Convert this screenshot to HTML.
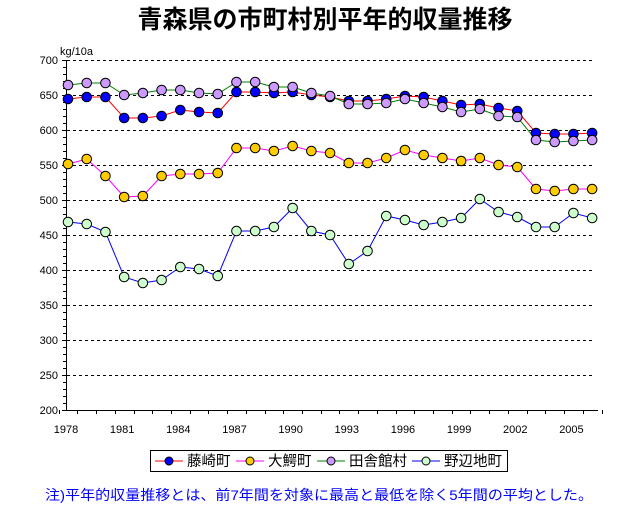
<!DOCTYPE html>
<html><head><meta charset="utf-8"><style>
body{margin:0;background:#fff;width:640px;height:504px;overflow:hidden}
svg text{font-family:"Liberation Sans","Noto Sans CJK JP",sans-serif}
</style></head><body>
<svg width="640" height="504" viewBox="0 0 640 504" xmlns="http://www.w3.org/2000/svg">
<text x="325" y="28" font-size="25" font-weight="bold" text-anchor="middle" fill="#000">青森県の市町村別平年的収量推移</text>
<text x="60" y="55" font-size="11" fill="#000">kg/10a</text>
<g id="grid" stroke="#000" stroke-width="1" stroke-dasharray="3,3"></g>
<g id="axes"></g>
<g id="series"></g>
<rect x="150.5" y="450.5" width="357" height="21" fill="#fff" stroke="#000"/>
<g font-size="14.5" fill="#000">
<line x1="155" y1="461" x2="183" y2="461" stroke="#f00"/><circle cx="169" cy="461" r="4" fill="#0000ff" stroke="#000"/>
<text x="187" y="466">藤崎町</text>
<line x1="236" y1="461" x2="264" y2="461" stroke="#f0f"/><circle cx="250" cy="461" r="4" fill="#ffcc00" stroke="#000"/>
<text x="268" y="466">大鰐町</text>
<line x1="317" y1="461" x2="345" y2="461" stroke="#008000"/><circle cx="331" cy="461" r="4" fill="#cc99ff" stroke="#000"/>
<text x="349" y="466">田舎館村</text>
<line x1="412" y1="461" x2="440" y2="461" stroke="#00f"/><circle cx="426" cy="461" r="4" fill="#ccffcc" stroke="#000"/>
<text x="444" y="466">野辺地町</text>
</g>
<text x="45" y="500" font-size="14" fill="#0000ff" textLength="548" lengthAdjust="spacingAndGlyphs">注)平年的収量推移とは、前7年間を対象に最高と最低を除く5年間の平均とした。</text>
</svg>
<script>
const ns="http://www.w3.org/2000/svg";
function el(p,t,a,txt){const e=document.createElementNS(ns,t);for(const k in a)e.setAttribute(k,a[k]);if(txt!==undefined)e.textContent=txt;p.appendChild(e);return e;}
const g=document.getElementById('grid'),ax=document.getElementById('axes'),s=document.getElementById('series');
for(let i=0;i<10;i++){const y=60+i*35;el(g,'line',{x1:67,y1:y+0.5,x2:594,y2:y+0.5});}
for(let i=0;i<=10;i++){const y=60+i*35;el(ax,'text',{x:58,y:y+4,'font-size':11,'text-anchor':'end',fill:'#000'},String(700-i*50));}
el(ax,'line',{x1:66.5,y1:60,x2:66.5,y2:410,stroke:'#000'});
for(let v=0;v<=50;v++){const y=60+v*7;el(ax,'line',{x1:v%5?63:62,y1:y+0.5,x2:66,y2:y+0.5,stroke:'#000'});}
el(ax,'line',{x1:66,y1:410.5,x2:598,y2:410.5,stroke:'#000'});
const X=i=>68+i*18.72;
for(let i=0;i<=29;i++){const x=Math.round(X(i)-9.36)+0.5;el(ax,'line',{x1:x,y1:410,x2:x,y2:414,stroke:'#000'});}
for(let i=0;i<29;i+=3){el(ax,'text',{x:X(i)-2,y:433,'font-size':11,'text-anchor':'middle',fill:'#000'},String(1978+i));}
const data=[
{l:'#f00',f:'#0000ff',y:[99,97,97,118,118,116,110,112,113,92,92,93,92,95,97,101,101,99,96,97,101,105,104,108,111,133,134,134,133]},
{l:'#008000',f:'#cc99ff',y:[85,83,83,95,93,90,90,93,94,82,82,87,87,93,96,104,104,103,99,103,107,112,109,116,117,140,142,141,140]},
{l:'#f0f',f:'#ffcc00',y:[164,159,176,197,196,176,174,174,173,148,148,151,146,151,153,163,163,158,150,155,158,161,158,165,167,189,191,189,189]},
{l:'#00f',f:'#ccffcc',y:[222,224,232,277,283,280,267,269,276,231,231,227,208,231,235,264,251,216,220,225,222,218,199,212,217,227,227,213,218]}];
const order=[3,2,0,1];
for(const k of order){const d=data[k];el(s,'polyline',{points:d.y.map((y,i)=>X(i)+','+y).join(' '),fill:'none',stroke:d.l,'stroke-width':1});}
for(const k of order){const d=data[k];d.y.forEach((y,i)=>el(s,'circle',{cx:X(i),cy:y,r:4.8,fill:d.f,stroke:'#000','stroke-width':1}));}
</script>
</body></html>
